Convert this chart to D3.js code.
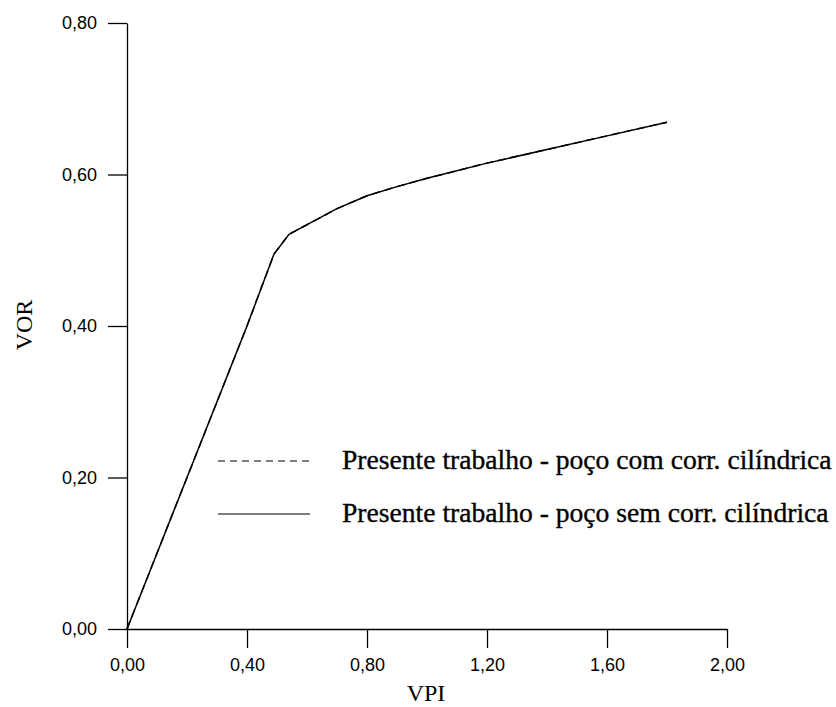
<!DOCTYPE html>
<html><head><meta charset="utf-8">
<script src="https://cdn.jsdelivr.net/npm/d3@7"></script>
<style>body{margin:0;background:#fff}svg{display:block}</style>
</head><body>
<svg id="c" width="836" height="707"></svg>
<script>
const vpi = [0, 0.10, 0.20, 0.30, 0.40, 0.49, 0.54, 0.63, 0.70, 0.80, 0.90, 1.00, 1.20, 1.40, 1.60, 1.80];
const vorSem = [0, 0.10, 0.20, 0.30, 0.40, 0.495, 0.521, 0.540, 0.555, 0.572, 0.584, 0.595, 0.615, 0.633, 0.651, 0.669];
const vorCom = [0, 0.10, 0.20, 0.30, 0.40, 0.495, 0.521, 0.540, 0.555, 0.572, 0.584, 0.595, 0.615, 0.633, 0.651, 0.669];
const xTicks = [0, 0.4, 0.8, 1.2, 1.6, 2.0];
const yTicks = [0, 0.2, 0.4, 0.6, 0.8];
const seriesNames = ["Presente trabalho - poço com corr. cilíndrica", "Presente trabalho - poço sem corr. cilíndrica"];

const svg = d3.select("#c");
const x = d3.scaleLinear().domain([0, 2]).range([127, 727]);
const y = d3.scaleLinear().domain([0, 0.8]).range([629, 23]);
const fmt = d => d3.format(".2f")(d).replace(".", ",");

const xa = svg.append("g").attr("transform", "translate(0,629)")
  .call(d3.axisBottom(x).tickValues(xTicks).tickFormat(fmt).tickSize(19).tickSizeOuter(0).tickPadding(10));
const ya = svg.append("g").attr("transform", "translate(127,0)")
  .call(d3.axisLeft(y).tickValues(yTicks).tickFormat(fmt).tickSize(19).tickSizeOuter(0).tickPadding(11));
[xa, ya].forEach(a => {
  a.selectAll("path,line").attr("stroke", "#000").attr("stroke-width", 1.3);
  a.selectAll("text").attr("font-family", "'Liberation Sans', Arial, sans-serif").attr("font-size", 18).attr("fill", "#000");
});

const line = d3.line().x(d => x(d[0])).y(d => y(d[1]));
svg.append("path").datum(vpi.map((v, i) => [v, vorCom[i]]))
  .attr("d", line).attr("fill", "none").attr("stroke", "#000").attr("stroke-width", 1.5).attr("stroke-dasharray", "8,5");
svg.append("path").datum(vpi.map((v, i) => [v, vorSem[i]]))
  .attr("d", line).attr("fill", "none").attr("stroke", "#000").attr("stroke-width", 1.5);

// axis titles
svg.append("text").attr("x", 426).attr("y", 701).attr("text-anchor", "middle")
  .attr("font-family", "'Liberation Serif', 'Times New Roman', serif").attr("font-size", 24).text("VPI");
svg.append("text").attr("transform", "translate(32,325) rotate(-90)").attr("text-anchor", "middle")
  .attr("font-family", "'Liberation Serif', 'Times New Roman', serif").attr("font-size", 24).text("VOR");

// legend
const lg = svg.append("g");
const ly = [461, 514];
seriesNames.forEach((n, i) => {
  lg.append("line").attr("x1", 218).attr("x2", 310).attr("y1", ly[i]).attr("y2", ly[i])
    .attr("stroke", "#000").attr("stroke-width", 1.2).attr("stroke-dasharray", i === 0 ? "7,5" : null);
  lg.append("text").attr("x", 342).attr("y", ly[i] + 8)
    .attr("font-family", "'Liberation Serif', 'Times New Roman', serif").attr("font-size", 27.6)
    .attr("stroke", "#000").attr("stroke-width", 0.35).text(n);
});
</script>
</body></html>
